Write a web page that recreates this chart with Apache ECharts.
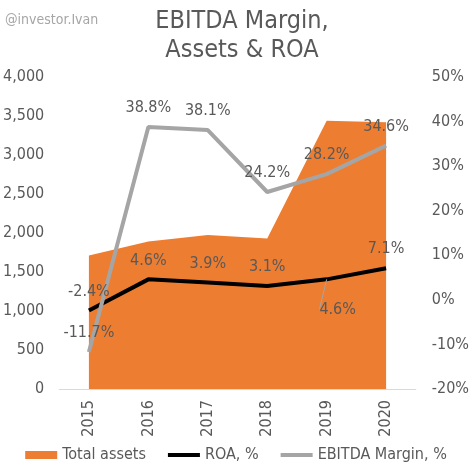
<!DOCTYPE html>
<html><head><meta charset="utf-8">
<script src="https://cdn.jsdelivr.net/npm/echarts@6/dist/echarts.min.js"></script>
<style>html,body{margin:0;padding:0;background:#fff}#c{width:472px;height:472px}</style>
</head><body><div id="c"></div>
<script>
const years = ['2015','2016','2017','2018','2019','2020'];
const totalAssets = [1710, 1890, 1975, 1930, 3440, 3420];
const roa = [-2.4, 4.6, 3.9, 3.1, 4.6, 7.1];
const ebitdaMargin = [-11.7, 38.8, 38.1, 24.2, 28.2, 34.6];
const leftTicks = [0, 4000, 500];
const rightTicks = [-20, 50, 10];

const FONT = "'DejaVu Sans Condensed', 'DejaVu Sans', sans-serif";
const TXT = '#595959';
const chart = echarts.init(document.getElementById('c'), null, {renderer: 'canvas'});

const roaData = roa.map((v, i) => {
  if (i === 4) {
    return {value: v, label: {position: 'bottom'},
            labelLine: {show: true, lineStyle: {color: '#A5A5A5', width: 1}}};
  }
  return v;
});

const lineIcon = 'path://M0,0h32v4h-32z';

chart.setOption({
  animation: false,
  textStyle: {fontFamily: FONT},
  title: [
    {text: 'EBITDA Margin,\nAssets & ROA', left: 237, textAlign: 'center', top: 2,
     textStyle: {fontFamily: FONT, fontSize: 25, fontWeight: 'normal', color: TXT, lineHeight: 29}},
    {text: '@investor.Ivan', left: 0, top: 8,
     textStyle: {fontFamily: FONT, fontSize: 14, fontWeight: 'normal', color: '#A6A6A6'}}
  ],
  grid: {left: 55, right: 56, top: 77, bottom: 83, containLabel: false},
  legend: {
    bottom: 4, left: 'center', itemGap: 22, itemWidth: 32, itemHeight: 8,
    textStyle: {fontFamily: FONT, fontSize: 16, color: TXT},
    data: [
      {name: 'Total assets', icon: 'rect'},
      {name: 'ROA, %', icon: lineIcon},
      {name: 'EBITDA Margin, %', icon: lineIcon}
    ]
  },
  xAxis: {
    type: 'category', data: years, boundaryGap: true,
    axisLine: {lineStyle: {color: '#D9D9D9'}},
    axisTick: {show: false},
    axisLabel: {rotate: 90, color: TXT, fontSize: 16, fontFamily: FONT, margin: 11}
  },
  yAxis: [
    {type: 'value', min: leftTicks[0], max: leftTicks[1], interval: leftTicks[2],
     splitLine: {show: false}, axisLine: {show: false}, axisTick: {show: false},
     axisLabel: {color: TXT, fontSize: 16, fontFamily: FONT, margin: 15,
       formatter: v => v.toLocaleString('en-US')}},
    {type: 'value', min: rightTicks[0], max: rightTicks[1], interval: rightTicks[2],
     splitLine: {show: false}, axisLine: {show: false}, axisTick: {show: false},
     axisLabel: {color: TXT, fontSize: 16, fontFamily: FONT, margin: 16,
       formatter: v => v + '%'}}
  ],
  series: [
    {name: 'Total assets', type: 'line', yAxisIndex: 0, data: totalAssets,
     symbol: 'none', lineStyle: {width: 0}, itemStyle: {color: '#ED7D31'},
     areaStyle: {color: '#ED7D31', opacity: 1}},
    {name: 'ROA, %', type: 'line', yAxisIndex: 1, data: roaData,
     symbol: 'circle', symbolSize: 0, showSymbol: true, itemStyle: {color: '#000000'},
     lineStyle: {color: '#000000', width: 4},
     labelLayout: p => (p.dataIndex === 4 ? {dx: 11, dy: 11, hideOverlap: false} : {hideOverlap: false}),
     label: {show: true, position: 'top', distance: 11, color: TXT, fontSize: 16, fontFamily: FONT,
       formatter: p => p.value.toFixed(1) + '%'}},
    {name: 'EBITDA Margin, %', type: 'line', yAxisIndex: 1, data: ebitdaMargin,
     symbol: 'circle', symbolSize: 0, showSymbol: true, itemStyle: {color: '#A5A5A5'},
     lineStyle: {color: '#A5A5A5', width: 4},
     labelLayout: {hideOverlap: false},
     label: {show: true, position: 'top', distance: 11, color: TXT, fontSize: 16, fontFamily: FONT,
       formatter: p => p.value.toFixed(1) + '%'}}
  ]
});
</script></body></html>
